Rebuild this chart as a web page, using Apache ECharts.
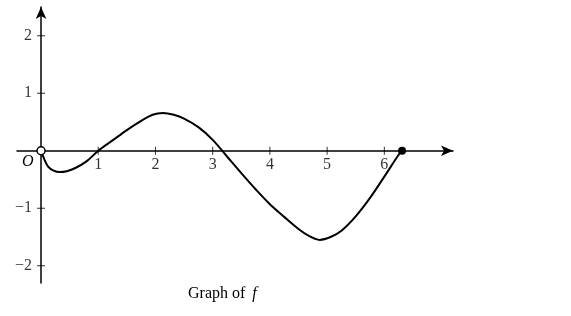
<!DOCTYPE html>
<html>
<head>
<meta charset="utf-8">
<script src="https://cdn.jsdelivr.net/npm/echarts@6/dist/echarts.min.js"></script>
<style>
html,body{margin:0;padding:0;background:#fff;}
#c{width:571px;height:316px;}
</style>
</head>
<body>
<div id="c"></div>
<script>
// Data
const xs = [0, 0.05, 0.12, 0.22, 0.33, 0.45, 0.6, 0.8, 1, 1.25, 1.5, 1.75, 1.95, 2.13, 2.32, 2.5, 2.75, 3, 3.25, 3.5, 3.75, 4, 4.25, 4.5, 4.68, 4.87, 5.06, 5.25, 5.5, 5.75, 6, 6.25, 6.31];
const ys = [0, -0.13, -0.27, -0.345, -0.37, -0.355, -0.3, -0.18, 0, 0.18, 0.36, 0.52, 0.625, 0.655, 0.625, 0.56, 0.41, 0.19, -0.1, -0.39, -0.67, -0.93, -1.15, -1.36, -1.48, -1.55, -1.5, -1.39, -1.14, -0.82, -0.45, -0.07, 0];
const xTicks = [1, 2, 3, 4, 5, 6];
const yTicks = [-2, -1, 1, 2];
const openPoint = [[0, 0]];
const closedPoint = [[6.31, 0]];
const caption = 'Graph of ';
const captionVar = 'f';
const originLabel = 'O';

const font = 'Liberation Serif, Times New Roman, serif';
const chart = echarts.init(document.getElementById('c'));
const lineData = xs.map((x, i) => [x, ys[i]]);
const fmt = v => (v < 0 ? '\u2212' + Math.abs(v) : String(v));

chart.setOption({
  animation: false,
  backgroundColor: '#fff',
  grid: {left: 17, right: 118, top: 7, bottom: 33, containLabel: false, outerBoundsMode: 'none'},
  title: {
    text: '{n|' + caption + '}{i|' + captionVar + '}',
    left: 183, top: 281,
    textStyle: {fontWeight: 'normal', rich: {
      n: {fontFamily: font, fontSize: 16, fontWeight: 'normal', color: '#000'},
      i: {fontFamily: font, fontSize: 16, fontStyle: 'italic', fontWeight: 'normal', color: '#000', padding: [0, 0, 0, 3]}
    }}
  },
  graphic: [{
    type: 'text', left: 22, top: 154,
    style: {text: originLabel, font: 'italic 16px ' + font, fill: '#000'}
  }],
  xAxis: {
    type: 'value', min: -0.42, max: 7.2,
    axisLine: {onZero: true, symbol: ['none', 'arrow'], symbolSize: [8, 12], lineStyle: {color: '#000', width: 1.5}},
    splitLine: {show: false}, axisTick: {show: false}, axisLabel: {show: false}
  },
  yAxis: {
    type: 'value', min: -2.3, max: 2.5,
    axisLine: {onZero: true, symbol: ['none', 'arrow'], symbolSize: [8, 12], lineStyle: {color: '#000', width: 1.5}},
    splitLine: {show: false}, axisTick: {show: false}, axisLabel: {show: false}
  },
  series: [{
    type: 'line', data: lineData, smooth: 0.35, showSymbol: false,
    lineStyle: {color: '#000', width: 2}, z: 3
  }, {
    // x ticks + labels
    type: 'scatter', data: xTicks.map(v => [v, 0]), symbol: 'rect', symbolSize: [1, 8],
    itemStyle: {color: '#000'}, z: 2,
    label: {show: true, position: 'bottom', distance: 2, formatter: p => fmt(p.value[0]),
      fontFamily: font, fontSize: 16, color: '#000'}
  }, {
    // y ticks + labels
    type: 'scatter', data: yTicks.map(v => [0, v]), symbol: 'rect', symbolSize: [8, 1],
    itemStyle: {color: '#000'}, z: 2,
    label: {show: true, position: 'left', distance: 5, formatter: p => fmt(p.value[1]),
      fontFamily: font, fontSize: 16, color: '#000'}
  }, {
    type: 'scatter', data: openPoint, symbolSize: 8,
    itemStyle: {color: '#fff', borderColor: '#000', borderWidth: 1.5, opacity: 1}, z: 5
  }, {
    type: 'scatter', data: closedPoint, symbolSize: 8,
    itemStyle: {color: '#000', opacity: 1}, z: 5
  }]
});
</script>
</body>
</html>
